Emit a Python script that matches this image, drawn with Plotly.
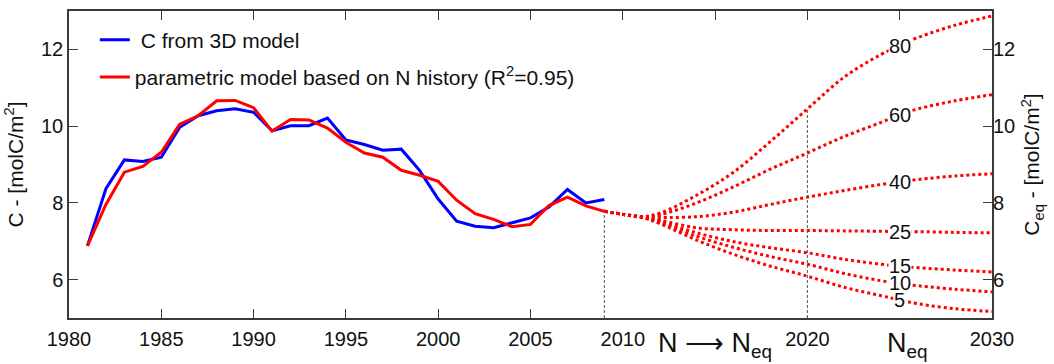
import plotly.graph_objects as go

# Annual carbon inventory, 1981-2009
years_hist = list(range(1981, 2010))
c_3d_model = [6.88, 8.37, 9.12, 9.08, 9.19, 9.97, 10.27, 10.40, 10.45, 10.36,
              9.88, 10.01, 10.01, 10.21, 9.64, 9.52, 9.37, 9.40, 8.84, 8.10,
              7.52, 7.39, 7.35, 7.48, 7.61, 7.89, 8.35, 8.00, 8.09]
c_parametric = [6.88, 7.96, 8.80, 8.95, 9.32, 10.05, 10.27, 10.66, 10.67, 10.48,
                9.87, 10.17, 10.16, 9.95, 9.58, 9.30, 9.19, 8.85, 8.72, 8.56,
                8.07, 7.72, 7.57, 7.38, 7.44, 7.93, 8.15, 7.92, 7.78]

# Projections toward equilibrium N, 2009-2030
proj_years = [2009, 2010, 2011, 2012, 2014, 2016, 2018, 2020, 2022, 2024, 2025, 2026, 2028, 2030]
n_eq_values = [80, 60, 40, 25, 15, 10, 5]
proj_80 = [7.78, 7.70, 7.64, 7.73, 8.20, 8.80, 9.60, 10.45, 11.28, 11.87, 12.10, 12.31, 12.63, 12.87]
proj_60 = [7.78, 7.70, 7.63, 7.69, 8.00, 8.42, 8.88, 9.30, 9.73, 10.10, 10.30, 10.45, 10.66, 10.82]
proj_40 = [7.78, 7.70, 7.63, 7.62, 7.64, 7.76, 7.96, 8.15, 8.32, 8.48, 8.55, 8.61, 8.70, 8.76]
proj_25 = [7.78, 7.70, 7.63, 7.55, 7.35, 7.30, 7.28, 7.28, 7.27, 7.26, 7.25, 7.25, 7.23, 7.22]
proj_15 = [7.78, 7.70, 7.63, 7.52, 7.22, 6.99, 6.83, 6.70, 6.53, 6.40, 6.35, 6.31, 6.25, 6.20]
proj_10 = [7.78, 7.70, 7.63, 7.49, 7.13, 6.84, 6.60, 6.40, 6.16, 5.97, 5.90, 5.84, 5.75, 5.68]
proj_5 = [7.78, 7.70, 7.63, 7.46, 7.03, 6.66, 6.35, 6.09, 5.80, 5.58, 5.47, 5.37, 5.24, 5.17]
projections = [proj_80, proj_60, proj_40, proj_25, proj_15, proj_10, proj_5]

# Axis ticks
x_label_vals = [1980, 1985, 1990, 1995, 2000, 2005, 2010, 2020, 2030]
x_bottom_ticks = [1980, 1985, 1990, 1995, 2000, 2005]
x_top_ticks = list(range(1980, 2031, 5))
y_ticks = [6, 8, 10, 12]
label_year = 2025

FONT = "Liberation Sans, Arial, Helvetica, sans-serif"
AXIS_COLOR = "#3a3a3a"
Y_MIN, Y_MAX = 5, 13
X_MIN, X_MAX = 1980, 2030

fig = go.Figure()

# Projection curves (dotted)
for n_eq, vals in zip(n_eq_values, projections):
    fig.add_trace(go.Scatter(
        x=proj_years, y=vals, mode="lines",
        line=dict(color="#ff0000", width=3, dash="dot", shape="spline", smoothing=1.0),
        showlegend=False, hoverinfo="skip"))

# Vertical markers at the end of the record and at 2020
fig.add_trace(go.Scatter(
    x=[years_hist[-1], years_hist[-1]], y=[Y_MIN, c_parametric[-1]], mode="lines",
    line=dict(color="#555555", width=1, dash="3px,2px"), showlegend=False, hoverinfo="skip"))
i2020 = proj_years.index(2020)
fig.add_trace(go.Scatter(
    x=[2020, 2020], y=[Y_MIN, proj_80[i2020]], mode="lines",
    line=dict(color="#555555", width=1, dash="3px,2px"), showlegend=False, hoverinfo="skip"))

# Historical series
fig.add_trace(go.Scatter(
    x=years_hist, y=c_3d_model, mode="lines", name=" C from 3D model",
    line=dict(color="#0000ff", width=3), legendgroup="a"))
fig.add_trace(go.Scatter(
    x=years_hist, y=c_parametric, mode="lines",
    name="parametric model based on N history (R<sup>2</sup>=0.95)",
    line=dict(color="#ff0000", width=3), legendgroup="b"))

# Empty traces that carry the secondary axes
fig.add_trace(go.Scatter(x=[None], y=[None], xaxis="x2", yaxis="y2",
                         showlegend=False, hoverinfo="skip"))
fig.add_trace(go.Scatter(x=[None], y=[None], xaxis="x3", yaxis="y",
                         showlegend=False, hoverinfo="skip"))

# N_eq labels sitting on each curve
i_lab = proj_years.index(label_year)
for n_eq, vals in zip(n_eq_values, projections):
    fig.add_annotation(x=label_year, y=vals[i_lab], text=str(n_eq), showarrow=False,
                       font=dict(size=20, color="#111111", family=FONT),
                       bgcolor="white", borderpad=0, height=16,
                       xanchor="center", yanchor="middle")

# Text under the projection period
fig.add_annotation(x=2015, y=0, xref="x", yref="paper", yanchor="top", yshift=-8,
                   text="N ⟶ N<sub>eq</sub>", showarrow=False,
                   font=dict(size=27, color="#111111", family=FONT))
fig.add_annotation(x=2025.4, y=0, xref="x", yref="paper", yanchor="top", yshift=-8,
                   text="N<sub>eq</sub>", showarrow=False,
                   font=dict(size=27, color="#111111", family=FONT))

fig.update_layout(
    width=1054, height=364,
    margin=dict(l=69, r=62, t=9, b=46),
    paper_bgcolor="white", plot_bgcolor="white",
    font=dict(family=FONT, size=20, color="#111111"),
    showlegend=True,
    legend=dict(x=0.028, y=0.972, xanchor="left", yanchor="top",
                bgcolor="rgba(0,0,0,0)", borderwidth=0,
                font=dict(size=21, family=FONT),
                traceorder="grouped", tracegroupgap=7),
    xaxis=dict(range=[X_MIN, X_MAX], tickvals=x_label_vals,
               ticktext=[str(v) for v in x_label_vals],
               ticks="", showgrid=False, zeroline=False,
               showline=True, linecolor=AXIS_COLOR, linewidth=1.5, mirror=True,
               tickfont=dict(size=20), ticklabelstandoff=2),
    xaxis2=dict(range=[X_MIN, X_MAX], overlaying="x", side="top", anchor="y2",
                tickvals=x_top_ticks, ticks="inside", ticklen=9, tickwidth=1.2,
                tickcolor=AXIS_COLOR, showticklabels=False, showgrid=False,
                zeroline=False, showline=False),
    xaxis3=dict(range=[X_MIN, X_MAX], overlaying="x", side="bottom", anchor="y",
                tickvals=x_bottom_ticks, ticks="inside", ticklen=9, tickwidth=1.2,
                tickcolor=AXIS_COLOR, showticklabels=False, showgrid=False,
                zeroline=False, showline=False),
    yaxis=dict(range=[Y_MIN, Y_MAX], tickvals=y_ticks, ticks="inside", ticklen=9,
               tickwidth=1.2, tickcolor=AXIS_COLOR, showgrid=False, zeroline=False,
               showline=True, linecolor=AXIS_COLOR, linewidth=1.5, mirror=True,
               title=dict(text="C - [molC/m<sup>2</sup>]", standoff=12,
                          font=dict(size=21)),
               tickfont=dict(size=20)),
    yaxis2=dict(range=[Y_MIN, Y_MAX], overlaying="y", side="right", anchor="x2",
                tickvals=y_ticks, ticks="inside", ticklen=9, tickwidth=1.2,
                tickcolor=AXIS_COLOR, showgrid=False, zeroline=False, showline=False,
                title=dict(text="C<sub>eq</sub> - [molC/m<sup>2</sup>]", standoff=10,
                           font=dict(size=21)),
                tickfont=dict(size=20)),
)

fig.write_html("out.html")
